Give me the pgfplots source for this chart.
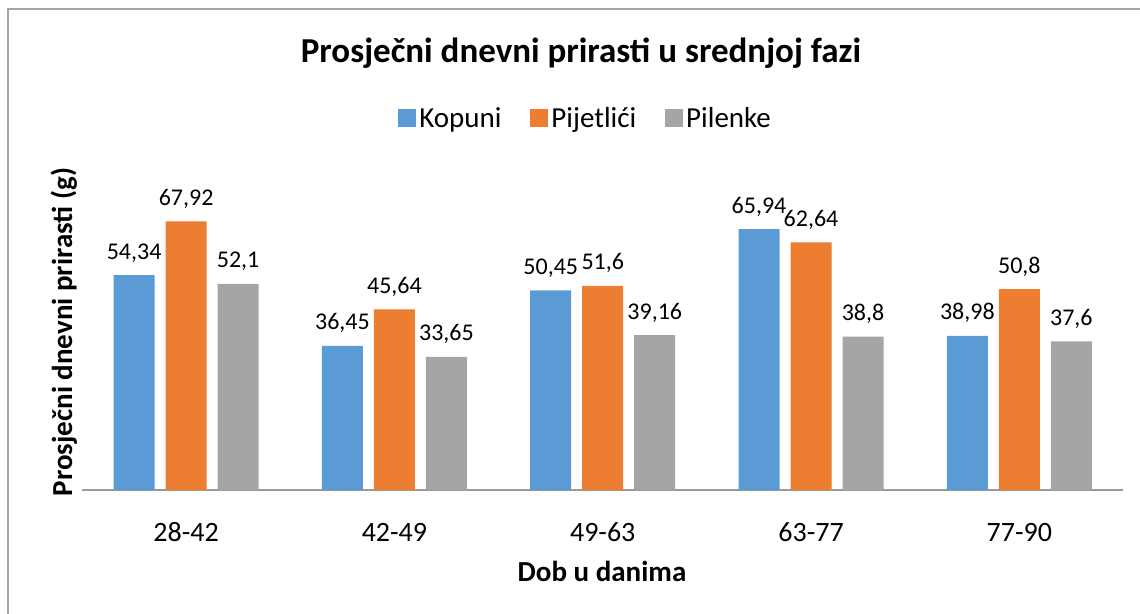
\documentclass[border=0pt]{standalone}
\usepackage{fontspec}
\setmainfont{Carlito}
\usepackage{pgfplots}
\pgfplotsset{compat=1.18}
\definecolor{cblue}{HTML}{5B9BD5}
\definecolor{corange}{HTML}{ED7D31}
\definecolor{cgray}{HTML}{A5A5A5}
\definecolor{framegray}{HTML}{A6A6A6}
\definecolor{axisgray}{HTML}{9A9A9A}
\begin{document}
\begin{tikzpicture}
\useasboundingbox (-82bp,-124bp) rectangle (1058bp,490bp);
\draw[framegray, line width=1.2bp] (-74bp,-124bp) -- (-74bp,481bp) -- (1058bp,481bp);
\begin{axis}[
  at={(0,0)}, anchor=south west,
  scale only axis,
  width=1041.5bp, height=316.4bp,
  xmin=-0.5, xmax=4.5, ymin=0, ymax=80,
  enlargelimits=false,
  ybar=11bp, bar width=41bp,
  axis x line*=bottom,
  axis y line=none,
  x axis line style={draw=axisgray, line width=1.2bp, -},
  xtick={0,1,2,3,4},
  xticklabels={28-42,42-49,49-63,63-77,77-90},
  xtick style={draw=none},
  xticklabel style={anchor=base, yshift=-47bp, font=\fontsize{28bp}{30bp}\selectfont},
  /pgf/number format/.cd, use comma, 1000 sep={}, assume math mode=true,
  /pgfplots/.cd,
  nodes near coords,
  every node near coord/.append style={anchor=base, yshift=16bp, font=\fontsize{24bp}{26bp}\selectfont, text=black},
  clip=false,
  legend columns=3,
  legend style={at={(0.484,1.176)}, anchor=center, draw=none, fill=none,
    font=\fontsize{29bp}{31bp}\selectfont,
    nodes={inner sep=3bp},
    /tikz/every even column/.append style={column sep=26bp}},
  legend image code/.code={\fill[#1] (0bp,-9bp) rectangle (18bp,9bp);},
]
\addplot[fill=cblue, draw=none] coordinates {(0,54.34) (1,36.45) (2,50.45) (3,65.94) (4,38.98)};
\addplot[fill=corange, draw=none] coordinates {(0,67.92) (1,45.64) (2,51.6) (3,62.64) (4,50.8)};
\addplot[fill=cgray, draw=none] coordinates {(0,52.1) (1,33.65) (2,39.16) (3,38.8) (4,37.6)};
\legend{Kopuni, Pijetlići, Pilenke}
\end{axis}
\node[anchor=base, font=\bfseries\fontsize{35bp}{37bp}\selectfont] at (499bp,427bp) {Prosječni dnevni prirasti u srednjoj fazi};
\node[anchor=base, font=\bfseries\fontsize{29bp}{31bp}\selectfont] at (520bp,-91bp) {Dob u danima};
\node[anchor=base, rotate=90, font=\bfseries\fontsize{29bp}{31bp}\selectfont] at (-10bp,158bp) {Prosječni dnevni prirasti (g)};
\end{tikzpicture}
\end{document}
